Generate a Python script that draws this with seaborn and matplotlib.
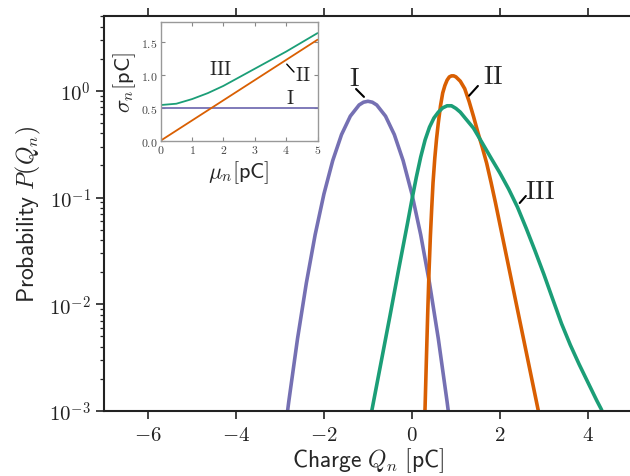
import numpy as np
import pandas as pd
import matplotlib
matplotlib.use("Agg")
import matplotlib.pyplot as plt
import seaborn as sns
from matplotlib.ticker import FixedLocator, FuncFormatter, LogLocator, NullFormatter

# --- main panel: charge distributions ---
q_one = [-2.9, -2.8, -2.6, -2.4, -2.2, -2.0, -1.8, -1.6, -1.4, -1.2, -1.1, -1.0,
         -0.9, -0.8, -0.6, -0.4, -0.2, 0.0, 0.2, 0.4, 0.6, 0.8, 0.9]
p_one = [0.00058, 0.00122, 0.00477, 0.0158, 0.0448, 0.108, 0.222, 0.389, 0.579, 0.737,
         0.782, 0.798, 0.782, 0.737, 0.579, 0.389, 0.222, 0.108, 0.0448, 0.0158,
         0.00477, 0.00122, 0.00058]

q_two = [0.27, 0.30, 0.33, 0.36, 0.39, 0.42, 0.45, 0.48, 0.52, 0.56, 0.60, 0.65, 0.70,
         0.75, 0.80, 0.85, 0.90, 0.95, 1.0, 1.1, 1.2, 1.3, 1.4, 1.5, 1.6, 1.7, 1.8,
         1.9, 2.0, 2.2, 2.4, 2.6, 2.8, 2.9, 3.0]
p_two = [0.0005, 0.00112, 0.00316, 0.00851, 0.0209, 0.0437, 0.0794, 0.138, 0.234,
         0.355, 0.501, 0.724, 0.955, 1.122, 1.259, 1.349, 1.380, 1.380, 1.35, 1.23,
         1.047, 0.794, 0.575, 0.407, 0.295, 0.209, 0.138, 0.0891, 0.0562, 0.0224,
         0.00891, 0.00355, 0.00141, 0.00089, 0.00056]

q_three = [-1.0, -0.9, -0.7, -0.5, -0.3, -0.1, 0.0, 0.1, 0.2, 0.3, 0.4, 0.5, 0.6, 0.7,
           0.8, 0.9, 1.0, 1.1, 1.2, 1.4, 1.6, 1.8, 2.0, 2.2, 2.4, 2.6, 2.8, 3.0, 3.2,
           3.4, 3.6, 3.8, 4.0, 4.2, 4.3, 4.4]
p_three = [0.00065, 0.00107, 0.00288, 0.00776, 0.0214, 0.0575, 0.0955, 0.155, 0.240,
           0.347, 0.457, 0.556, 0.631, 0.692, 0.724, 0.724, 0.684, 0.631, 0.562, 0.447,
           0.324, 0.234, 0.170, 0.120, 0.0813, 0.0513, 0.0316, 0.0191, 0.0112, 0.00661,
           0.00417, 0.00275, 0.00186, 0.00126, 0.00105, 0.00085]

# --- inset: width sigma_n against mean mu_n ---
mu_vals = [0.0, 0.5, 1.0, 1.5, 2.0, 2.5, 3.0, 3.5, 4.0, 4.5, 5.0]
sigma_one = [0.5, 0.5, 0.5, 0.5, 0.5, 0.5, 0.5, 0.5, 0.5, 0.5, 0.5]
sigma_two = [0.0, 0.153, 0.306, 0.459, 0.612, 0.765, 0.918, 1.071, 1.224, 1.377, 1.53]
sigma_three = [0.54, 0.56, 0.63, 0.72, 0.83, 0.96, 1.09, 1.22, 1.35, 1.49, 1.63]

case_names = ["I", "II", "III"]
colors = sns.color_palette("Dark2", 3).as_hex()
case_colors = {"I": colors[2], "II": colors[1], "III": colors[0]}

sns.set_style("ticks")
plt.rcParams["mathtext.fontset"] = "cm"
plt.rcParams["font.family"] = ["DejaVu Sans"]

fig = plt.figure(figsize=(6.3, 4.77), dpi=100)
ax = fig.add_axes([0.165, 0.136, 0.838, 0.828])

main = pd.concat([
    pd.DataFrame({"q": q_one, "p": p_one, "case": "I"}),
    pd.DataFrame({"q": q_two, "p": p_two, "case": "II"}),
    pd.DataFrame({"q": q_three, "p": p_three, "case": "III"}),
])
sns.lineplot(data=main, x="q", y="p", hue="case", palette=case_colors,
             lw=2.6, legend=False, ax=ax)
ax.set_yscale("log")
ax.set_xlim(-7, 5)
ax.set_ylim(1e-3, 5)

ax.xaxis.set_major_locator(FixedLocator([-6, -4, -2, 0, 2, 4]))
ax.xaxis.set_major_formatter(FuncFormatter(lambda v, p: r"$%d$" % round(v)))
ax.yaxis.set_major_locator(FixedLocator([1e-3, 1e-2, 1e-1, 1e0]))
ax.yaxis.set_major_formatter(
    FuncFormatter(lambda v, p: r"$\mathrm{10}^{%d}$" % round(np.log10(v))))
ax.yaxis.set_minor_locator(LogLocator(base=10, subs=np.arange(2, 10)))
ax.yaxis.set_minor_formatter(NullFormatter())
ax.tick_params(axis="both", which="major", labelsize=15, direction="out",
               length=6, width=1.2, colors="#222222")
ax.tick_params(axis="y", which="minor", direction="out", length=3, width=0.9)
ax.tick_params(axis="x", top=True, which="major")
for side in ["left", "bottom", "top", "right"]:
    ax.spines[side].set_linewidth(1.5)
    ax.spines[side].set_color("#222222")

ax.set_xlabel(r"$\mathsf{Charge}\ Q_n\ \mathsf{[pC]}$", fontsize=17, labelpad=1)
ax.set_ylabel(r"$\mathsf{Probability}\ P(Q_n)$", fontsize=17, labelpad=4)

# curve labels with short leaders
ax.text(-1.30, 1.32, r"$\mathrm{I}$", fontsize=19, ha="center", va="center")
ax.plot([-1.27, -1.09], [1.04, 0.877], color="black", lw=1.5)
ax.text(1.84, 1.38, r"$\mathrm{II}$", fontsize=19, ha="center", va="center")
ax.plot([1.50, 1.30], [1.11, 0.90], color="black", lw=1.5)
ax.text(2.91, 0.115, r"$\mathrm{III}$", fontsize=19, ha="center", va="center")
ax.plot([2.59, 2.45], [0.1035, 0.089], color="black", lw=1.5)

# inset
ins = fig.add_axes([0.255, 0.703, 0.249, 0.249])
inset = pd.concat([
    pd.DataFrame({"mu": mu_vals, "sigma": sigma_one, "case": "I"}),
    pd.DataFrame({"mu": mu_vals, "sigma": sigma_two, "case": "II"}),
    pd.DataFrame({"mu": mu_vals, "sigma": sigma_three, "case": "III"}),
])
sns.lineplot(data=inset, x="mu", y="sigma", hue="case", palette=case_colors,
             lw=1.3, legend=False, ax=ins)
ins.set_xlim(0, 5)
ins.set_ylim(0, 1.8)
ins.xaxis.set_major_locator(FixedLocator([0, 1, 2, 3, 4, 5]))
ins.yaxis.set_major_locator(FixedLocator([0.0, 0.5, 1.0, 1.5]))
ins.xaxis.set_major_formatter(FuncFormatter(lambda v, p: r"$%d$" % round(v)))
ins.yaxis.set_major_formatter(FuncFormatter(lambda v, p: r"$%.1f$" % v))
ins.tick_params(axis="both", which="major", labelsize=8.5, direction="in",
                length=3, width=0.8, color="#888888", labelcolor="#444444",
                top=True, right=True, pad=2)
for side in ["left", "bottom", "top", "right"]:
    ins.spines[side].set_linewidth(1.0)
    ins.spines[side].set_color("#999999")
ins.set_xlabel(r"$\mu_n\mathsf{[pC]}$", fontsize=16, labelpad=1)
ins.set_ylabel(r"$\sigma_n\mathsf{[pC]}$", fontsize=16, labelpad=2)

ins.text(1.89, 1.09, r"$\mathrm{III}$", fontsize=14, ha="center", va="center")
ins.text(4.53, 1.01, r"$\mathrm{II}$", fontsize=14, ha="center", va="center")
ins.plot([4.02, 4.25], [1.16, 1.04], color="black", lw=1.0)
ins.text(4.12, 0.65, r"$\mathrm{I}$", fontsize=14, ha="center", va="center")

fig.savefig("out.png", dpi=100)
